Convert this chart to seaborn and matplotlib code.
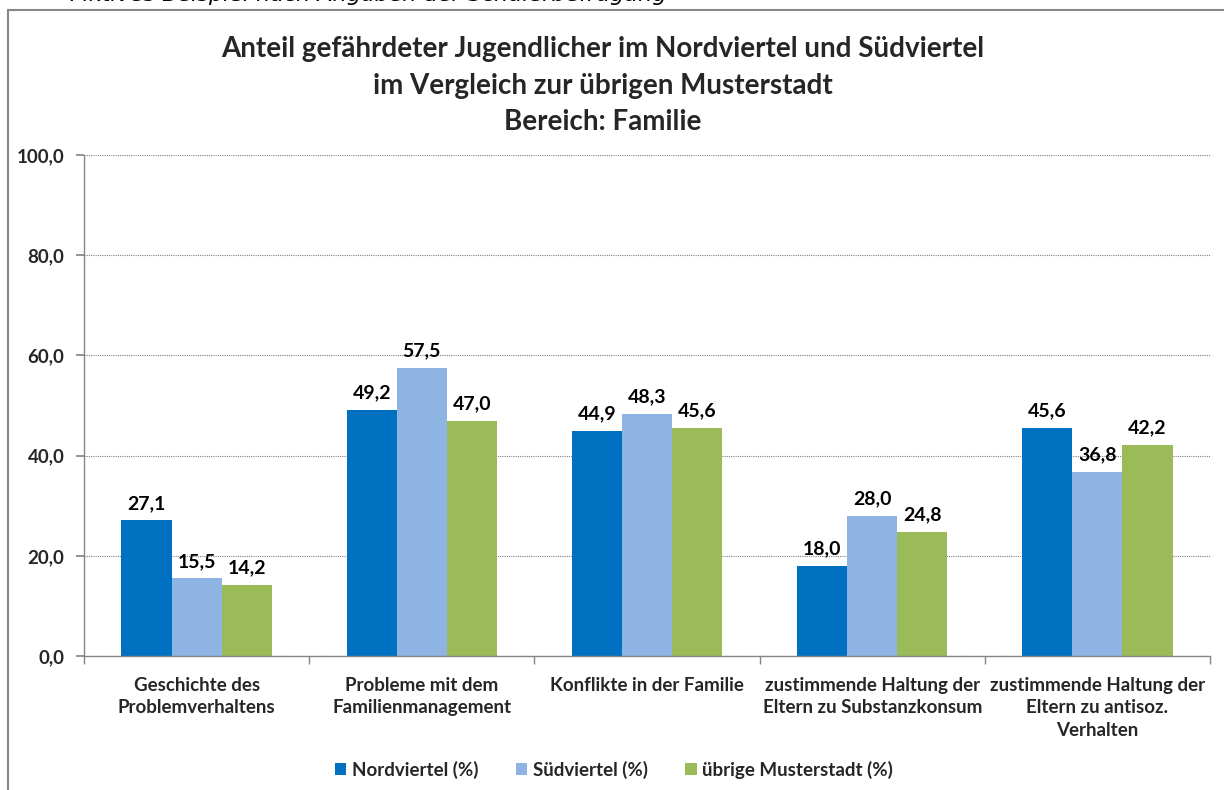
import matplotlib
matplotlib.use("Agg")
import matplotlib.pyplot as plt
import matplotlib.lines as mlines
from matplotlib.ticker import FixedLocator, FuncFormatter
import seaborn as sns
import pandas as pd

categories = [
    "Geschichte des\nProblemverhaltens",
    "Probleme mit dem\nFamilienmanagement",
    "Konflikte in der Familie",
    "zustimmende Haltung der\nEltern zu Substanzkonsum",
    "zustimmende Haltung der\nEltern zu antisoz.\nVerhalten",
]
series = ["Nordviertel (%)", "Südviertel (%)", "übrige Musterstadt (%)"]
nord = [27.1, 49.2, 44.9, 18.0, 45.6]
sued = [15.5, 57.5, 48.3, 28.0, 36.8]
uebrig = [14.2, 47.0, 45.6, 24.8, 42.2]
colors = ["#0070C0", "#8EB4E3", "#9BBB59"]
title = ("Anteil gefährdeter Jugendlicher im Nordviertel und Südviertel\n"
         "im Vergleich zur übrigen Musterstadt\nBereich: Familie")
yticks = [0, 20, 40, 60, 80, 100]

rows = []
for s, vals in zip(series, [nord, sued, uebrig]):
    for c, v in zip(categories, vals):
        rows.append({"Kategorie": c, "Serie": s, "Wert": v})
df = pd.DataFrame(rows)

sns.set_theme(style="white")
plt.rcParams["font.family"] = ["Lato", "DejaVu Sans"]

fig = plt.figure(figsize=(12.24, 7.90), dpi=100)
ax = fig.add_axes([84 / 1224, 1 - 656 / 790, (1210 - 84) / 1224, (656 - 155) / 790])

sns.barplot(data=df, x="Kategorie", y="Wert", hue="Serie", order=categories,
            hue_order=series, palette=colors, width=0.667, saturation=1,
            edgecolor="none", linewidth=0, ax=ax, legend=True)

for cont in ax.containers:
    ax.bar_label(cont, labels=[f"{v:.1f}".replace(".", ",") for v in cont.datavalues],
                 padding=6, fontsize=14, fontweight="bold", color="#000000")

ax.set_ylim(0, 100)
ax.set_xlim(-0.5, len(categories) - 0.5)
ax.yaxis.set_major_locator(FixedLocator(yticks))
ax.yaxis.set_major_formatter(FuncFormatter(lambda v, p: f"{v:.1f}".replace(".", ",")))
ax.set_xlabel("")
ax.set_ylabel("")
ax.grid(axis="y", color="#808080", linestyle=(0, (1, 1)), linewidth=0.8)
ax.set_axisbelow(True)
for side in ["top", "right"]:
    ax.spines[side].set_visible(False)
for side in ["left", "bottom"]:
    ax.spines[side].set_visible(True)
    ax.spines[side].set_color("#868686")
    ax.spines[side].set_linewidth(1.0)

ax.tick_params(axis="y", which="major", left=True, length=6, color="#868686",
               labelsize=13.5, pad=8)
for lab in ax.get_yticklabels():
    lab.set_fontweight("bold")
ax.tick_params(axis="x", which="major", bottom=False, labelsize=13.5, pad=9)
for lab in ax.get_xticklabels():
    lab.set_fontweight("bold")
    lab.set_linespacing(1.4)
ax.xaxis.set_minor_locator(FixedLocator([i - 0.5 for i in range(len(categories) + 1)]))
ax.tick_params(axis="x", which="minor", bottom=True, length=6, color="#868686")

leg = ax.get_legend()
handles = leg.legend_handles
leg.remove()
fig.legend(handles, series, loc="center", bbox_to_anchor=(614 / 1224, 1 - 770 / 790),
           ncol=3, frameon=False, handlelength=0.6, handleheight=0.6,
           handletextpad=0.3, columnspacing=2.0, prop={"weight": "bold", "size": 13.5})

fig.text(603 / 1224, 1 - 86 / 790, title, ha="center", va="center", fontsize=20,
         fontweight="bold", linespacing=1.5)

fig.text(70 / 1224, 1 - 1 / 790, "Fiktives Beispiel nach Angaben der Schülerbefragung",
         ha="left", va="baseline", fontsize=16, style="italic", color="#000000",
         family=["DejaVu Sans"])

# chart frame
fig.add_artist(mlines.Line2D([8 / 1224, 8 / 1224], [0, 1 - 10 / 790],
                             transform=fig.transFigure, color="#868686", linewidth=1.5))
fig.add_artist(mlines.Line2D([8 / 1224, 1], [1 - 10 / 790, 1 - 10 / 790],
                             transform=fig.transFigure, color="#868686", linewidth=1.5))

fig.savefig("out.png", dpi=100, facecolor="white")
